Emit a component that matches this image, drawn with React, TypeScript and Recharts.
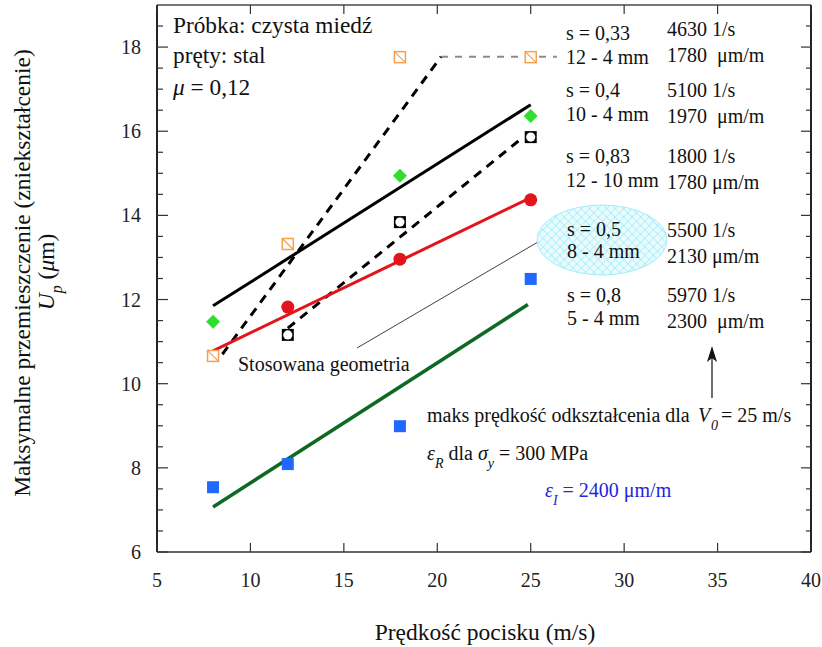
import { ComposedChart, Line, Scatter, XAxis, YAxis } from "recharts"

const FONT = "'Liberation Serif', 'Times New Roman', serif"

// Peak displacement Up (µm) against projectile speed (m/s), one set per geometry
const speedS033 = [8, 12, 18, 25]
const upS033 = [10.66, 13.32, 17.76, 17.76]
const speedS04 = [8, 18, 25]
const upS04 = [11.47, 14.94, 16.36]
const speedS083 = [12, 18, 25]
const upS083 = [11.16, 13.84, 15.86]
const speedS05 = [12, 18, 25]
const upS05 = [11.82, 12.96, 14.37]
const speedS08 = [8, 12, 18, 25]
const upS08 = [7.54, 8.09, 8.99, 12.49]

// trend lines, start and end points
const trendS033X = [8.5, 20.2]
const trendS033Y = [10.7, 17.77]
const plateauS033X = [20.2, 26.4]
const plateauS033Y = [17.77, 17.77]
const trendS04X = [8, 25]
const trendS04Y = [11.85, 16.63]
const trendS083X = [12, 24.6]
const trendS083Y = [11.32, 15.86]
const trendS05X = [8, 25]
const trendS05Y = [10.78, 14.42]
const trendS08X = [8, 24.85]
const trendS08Y = [7.07, 11.88]

const xTicks = [5, 10, 15, 20, 25, 30, 35, 40]
const yMajorTicks = [6, 8, 10, 12, 14, 16, 18]
const yMinorTicks = [6.5, 7, 7.5, 8.5, 9, 9.5, 10.5, 11, 11.5, 12.5, 13, 13.5, 14.5, 15, 15.5, 16.5, 17, 17.5, 18.5]
const yTicks = [...yMajorTicks, ...yMinorTicks].sort((a, b) => a - b)

const toPoints = (xs: number[], ys: number[]) => xs.map((x, i) => ({ x, y: ys[i] }))

const ORANGE = "#F5A04E"
const AXIS = "#333"

function LeftTick({ x, y, payload }: any) {
  const major = yMajorTicks.includes(payload.value)
  return (
    <g>
      <line x1={x} x2={x + (major ? 11 : 6)} y1={y} y2={y} stroke={AXIS} strokeWidth={1.2} />
      {major && (
        <text x={x - 16} y={y + 7} textAnchor="end" fontSize={20} fontFamily={FONT} fill="#222">
          {payload.value}
        </text>
      )}
    </g>
  )
}

function RightTick({ x, y, payload }: any) {
  const major = yMajorTicks.includes(payload.value)
  return <line x1={x - (major ? 10 : 5)} x2={x} y1={y} y2={y} stroke={AXIS} strokeWidth={1.2} />
}

function BottomTick({ x, y, payload }: any) {
  return (
    <g>
      <line x1={x} x2={x} y1={y} y2={y - 9} stroke={AXIS} strokeWidth={1.2} />
      <text x={x} y={y + 35} textAnchor="middle" fontSize={20} fontFamily={FONT} fill="#222">
        {payload.value}
      </text>
    </g>
  )
}

function TopTick({ x, y }: any) {
  return <line x1={x} x2={x} y1={y} y2={y + 9} stroke={AXIS} strokeWidth={1.2} />
}

const HatchSquare = ({ cx, cy }: any) => (
  <g>
    <rect x={cx - 5.5} y={cy - 5.5} width={11} height={11} fill="#fff" stroke={ORANGE} strokeWidth={1.5} />
    <line x1={cx - 5.5} y1={cy - 5.5} x2={cx + 5.5} y2={cy + 5.5} stroke={ORANGE} strokeWidth={1.2} />
  </g>
)

const Diamond = ({ cx, cy }: any) => (
  <polygon points={`${cx},${cy - 7} ${cx + 7},${cy} ${cx},${cy + 7} ${cx - 7},${cy}`} fill="#2EE02E" />
)

const RingSquare = ({ cx, cy }: any) => (
  <g>
    <rect x={cx - 6} y={cy - 6} width={12} height={12} fill="#000" />
    <circle cx={cx} cy={cy} r={4.6} fill="#fff" />
  </g>
)

const Dot = ({ cx, cy }: any) => <circle cx={cx} cy={cy} r={6.5} fill="#E3141B" />

const BlueSquare = ({ cx, cy }: any) => (
  <rect x={cx - 6} y={cy - 6} width={12} height={12} fill="#2168FF" />
)

const txt = { fontFamily: FONT, fill: "#111", style: { whiteSpace: "pre" as const } }

function Annotations() {
  return (
    <g>
      <defs>
        <pattern id="crossHatch" width="6" height="6" patternUnits="userSpaceOnUse" patternTransform="rotate(45)">
          <rect width="6" height="6" fill="#EAFBFE" />
          <line x1="0" y1="0" x2="0" y2="6" stroke="#8FE9F6" strokeWidth="1.2" />
          <line x1="0" y1="0" x2="6" y2="0" stroke="#8FE9F6" strokeWidth="1.2" />
        </pattern>
      </defs>

      {/* pointer to the geometry in use */}
      <line x1={357} y1={348} x2={538} y2={242} stroke="#111" strokeWidth={0.8} />
      <ellipse cx={602} cy={240} rx={65} ry={35} fill="url(#crossHatch)" stroke="#A5EDF7" strokeWidth={1} />

      <text x={173} y={33} fontSize={23.3} {...txt}>Próbka: czysta miedź</text>
      <text x={173} y={63} fontSize={23.3} {...txt}>pręty: stal</text>
      <text x={173} y={95} fontSize={23.3} {...txt}>
        <tspan fontStyle="italic">μ</tspan> = 0,12
      </text>

      <text x={566} y={40} fontSize={20} {...txt}>s = 0,33</text>
      <text x={566} y={64} fontSize={20} {...txt}>12 - 4 mm</text>
      <text x={667} y={36} fontSize={20} {...txt}>4630 1/s</text>
      <text x={667} y={62} fontSize={20} {...txt}>1780  μm/m</text>

      <text x={566} y={97} fontSize={20} {...txt}>s = 0,4</text>
      <text x={566} y={121} fontSize={20} {...txt}>10 - 4 mm</text>
      <text x={667} y={97} fontSize={20} {...txt}>5100 1/s</text>
      <text x={667} y={123} fontSize={20} {...txt}>1970  μm/m</text>

      <text x={566} y={163} fontSize={20} {...txt}>s = 0,83</text>
      <text x={566} y={187} fontSize={20} {...txt}>12 - 10 mm</text>
      <text x={667} y={163} fontSize={20} {...txt}>1800 1/s</text>
      <text x={667} y={189} fontSize={20} {...txt}>1780 μm/m</text>

      <text x={567} y={236} fontSize={20} {...txt}>s = 0,5</text>
      <text x={567} y={258} fontSize={20} {...txt}>8 - 4 mm</text>
      <text x={667} y={237} fontSize={20} {...txt}>5500 1/s</text>
      <text x={667} y={263} fontSize={20} {...txt}>2130 μm/m</text>

      <text x={567} y={302} fontSize={20} {...txt}>s = 0,8</text>
      <text x={567} y={325} fontSize={20} {...txt}>5 - 4 mm</text>
      <text x={667} y={302} fontSize={20} {...txt}>5970 1/s</text>
      <text x={667} y={328} fontSize={20} {...txt}>2300  μm/m</text>

      <text x={238} y={371} fontSize={20} {...txt}>Stosowana geometria</text>

      {/* arrow pointing at the strain-rate column */}
      <line x1={712} y1={398} x2={712} y2={356} stroke="#111" strokeWidth={1.2} />
      <polygon points="712,346 707,362 712,358 717,362" fill="#111" />

      <text x={427} y={422} fontSize={20} {...txt}>
        maks prędkość odkształcenia dla
        <tspan x={698} fontStyle="italic">V</tspan>
        <tspan x={711} dy={8} fontSize={14} fontStyle="italic">0</tspan>
        <tspan x={721} dy={-8}>= 25 m/s</tspan>
      </text>
      <text x={427} y={460} fontSize={20} {...txt}>
        <tspan fontStyle="italic">ε</tspan>
        <tspan dy={8} fontSize={14} fontStyle="italic">R</tspan>
        <tspan dy={-8}> dla </tspan>
        <tspan fontStyle="italic">σ</tspan>
        <tspan dy={8} fontSize={14} fontStyle="italic">y</tspan>
        <tspan dy={-8}> = 300 MPa</tspan>
      </text>
      <text x={545} y={497} fontSize={20} {...txt} fill="#2424E0">
        <tspan fontStyle="italic">ε</tspan>
        <tspan dy={8} fontSize={14} fontStyle="italic">I</tspan>
        <tspan dy={-8}> = 2400 μm/m</tspan>
      </text>

      {/* axis titles */}
      <text x={485} y={640} textAnchor="middle" fontSize={23.5} {...txt}>Prędkość pocisku (m/s)</text>
      <text transform="translate(30,273) rotate(-90)" textAnchor="middle" fontSize={23.5} {...txt}>
        Maksymalne przemieszczenie (zniekształcenie)
      </text>
      <text transform="translate(54,272) rotate(-90)" textAnchor="middle" fontSize={23.5} {...txt}>
        <tspan fontStyle="italic">U</tspan>
        <tspan dy={8} fontSize={16} fontStyle="italic">p</tspan>
        <tspan dy={-8}> (</tspan>
        <tspan fontStyle="italic">μ</tspan>
        <tspan>m)</tspan>
      </text>
    </g>
  )
}

export default function App() {
  return (
    <div style={{ position: "absolute", left: 0, top: 0, background: "#fff" }}>
      <ComposedChart width={822} height={647} margin={{ top: 4, right: 10, bottom: 94, left: 156 }}>
        <XAxis
          dataKey="x"
          type="number"
          domain={[5, 40]}
          ticks={xTicks}
          interval={0}
          height={1}
          tickSize={0}
          tickMargin={0}
          tickLine={false}
          tick={(p: any) => <BottomTick {...p} />}
          axisLine={{ stroke: "#666", strokeWidth: 2 }}
          allowDataOverflow
        />
        <XAxis
          xAxisId="top"
          orientation="top"
          dataKey="x"
          type="number"
          domain={[5, 40]}
          ticks={xTicks}
          interval={0}
          height={1}
          tickSize={0}
          tickMargin={0}
          tickLine={false}
          tick={(p: any) => <TopTick {...p} />}
          axisLine={{ stroke: "#777", strokeWidth: 2 }}
          allowDataOverflow
        />
        <YAxis
          dataKey="y"
          type="number"
          domain={[6, 19]}
          ticks={yTicks}
          interval={0}
          width={1}
          tickSize={0}
          tickMargin={0}
          tickLine={false}
          tick={(p: any) => <LeftTick {...p} />}
          axisLine={{ stroke: "#222", strokeWidth: 2 }}
          allowDataOverflow
        />
        <YAxis
          yAxisId="right"
          orientation="right"
          dataKey="y"
          type="number"
          domain={[6, 19]}
          ticks={yTicks}
          interval={0}
          width={1}
          tickSize={0}
          tickMargin={0}
          tickLine={false}
          tick={(p: any) => <RightTick {...p} />}
          axisLine={{ stroke: "#222", strokeWidth: 2 }}
          allowDataOverflow
        />

        <Line data={toPoints(plateauS033X, plateauS033Y)} dataKey="y" type="linear" stroke="#8a8a8a" strokeWidth={2} strokeDasharray="7 7" dot={false} isAnimationActive={false} />
        <Line data={toPoints(trendS033X, trendS033Y)} dataKey="y" type="linear" stroke="#000" strokeWidth={3} strokeDasharray="9 7" dot={false} isAnimationActive={false} />
        <Line data={toPoints(trendS04X, trendS04Y)} dataKey="y" type="linear" stroke="#000" strokeWidth={3} dot={false} isAnimationActive={false} />
        <Line data={toPoints(trendS083X, trendS083Y)} dataKey="y" type="linear" stroke="#000" strokeWidth={3} strokeDasharray="9 7" dot={false} isAnimationActive={false} />
        <Line data={toPoints(trendS05X, trendS05Y)} dataKey="y" type="linear" stroke="#E3141B" strokeWidth={3} dot={false} isAnimationActive={false} />
        <Line data={toPoints(trendS08X, trendS08Y)} dataKey="y" type="linear" stroke="#0E6A22" strokeWidth={3.5} dot={false} isAnimationActive={false} />

        <Scatter data={toPoints(speedS033, upS033)} dataKey="y" shape={HatchSquare} isAnimationActive={false} />
        <Scatter data={toPoints(speedS04, upS04)} dataKey="y" shape={Diamond} isAnimationActive={false} />
        <Scatter data={toPoints(speedS083, upS083)} dataKey="y" shape={RingSquare} isAnimationActive={false} />
        <Scatter data={toPoints(speedS05, upS05)} dataKey="y" shape={Dot} isAnimationActive={false} />
        <Scatter data={toPoints(speedS08, upS08)} dataKey="y" shape={BlueSquare} isAnimationActive={false} />

        <Annotations />
      </ComposedChart>
    </div>
  )
}
